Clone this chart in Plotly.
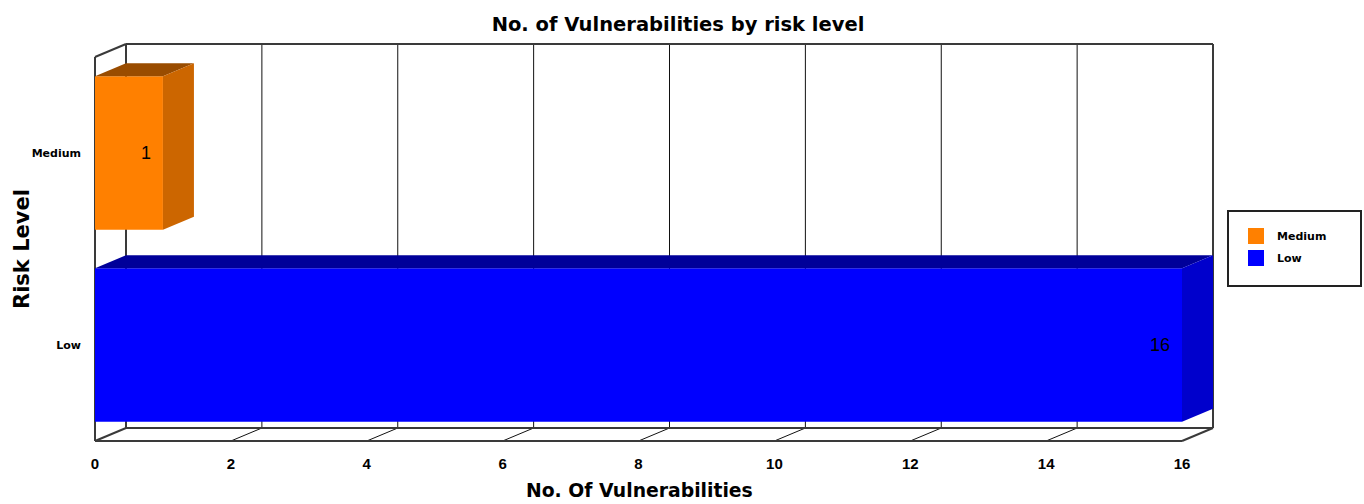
import plotly.graph_objects as go

# ---- data ----
categories = ["Low", "Medium"]
counts = [16, 1]
x_ticks = [0, 2, 4, 6, 8, 10, 12, 14, 16]
legend_order = ["Medium", "Low"]

front_colors = {"Medium": "#FF8000", "Low": "#0000FF"}
top_colors = {"Medium": "#994C00", "Low": "#000099"}
side_colors = {"Medium": "#CC6600", "Low": "#0000CC"}

# ---- geometry of the pseudo-3D box (pixels) ----
W, H = 1364, 504
FX0, FX1 = 95, 1182        # front floor: x = 0 and x = max
FY_BOT, FY_TOP = 441, 57   # front plane bottom / top
DPX, DPY = 31, 13          # depth offset of the back wall
PAD = 3

x_max = x_ticks[-1]
n_cat = len(categories)
kx = (FX1 - FX0) / x_max
ky = (FY_BOT - FY_TOP) / n_cat
dx = DPX / kx
dy = DPY / ky

plot_l = FX0 - PAD
plot_r = FX1 + DPX + PAD
plot_t = FY_TOP - DPY - PAD
plot_b = FY_BOT + PAD

x_range = [(plot_l - FX0) / kx, (plot_r - FX0) / kx]
y_range = [(FY_BOT - plot_b) / ky - 0.5, (FY_BOT - plot_t) / ky - 0.5]


def xp(px):
    return (px - plot_l) / (plot_r - plot_l)


def yp(py):
    return (plot_b - py) / (plot_b - plot_t)


ypos = list(range(n_cat))
BAR_W = 0.8
y_floor = -0.5
y_ceil = n_cat - 0.5

fig = go.Figure()
fig.add_trace(go.Bar(
    x=counts, y=ypos, orientation="h", width=BAR_W,
    marker=dict(color=[front_colors[c] for c in categories], line=dict(width=0)),
    showlegend=False, hoverinfo="x+text", hovertext=categories,
))

shapes = []
WALL = dict(color="#3a3a3a", width=2)
GRID = dict(color="#111111", width=1)


def seg(x0, y0, x1, y1, line, layer="below"):
    shapes.append(dict(type="line", xref="x", yref="y", x0=x0, y0=y0, x1=x1, y1=y1,
                       line=line, layer=layer))


# back wall gridlines and floor tick diagonals
for t in x_ticks:
    if 0 < t < x_max:
        seg(t + dx, y_floor + dy, t + dx, y_ceil + dy, GRID)
    seg(t, y_floor, t + dx, y_floor + dy, GRID if 0 < t < x_max else WALL)

# box edges
seg(dx, y_floor + dy, x_max + dx, y_floor + dy, WALL)          # back floor edge
seg(dx, y_ceil + dy, x_max + dx, y_ceil + dy, WALL)            # back top edge
seg(dx, y_floor + dy, dx, y_ceil + dy, WALL)                   # back left edge
seg(x_max + dx, y_floor + dy, x_max + dx, y_ceil + dy, WALL)   # back right edge
seg(0, y_floor, 0, y_ceil, WALL)                               # front left edge
seg(0, y_ceil, dx, y_ceil + dy, WALL)                          # top-left diagonal
seg(0, y_floor, x_max, y_floor, WALL)                          # front floor edge

# top and side faces of each bar
half = BAR_W / 2
for cat, v, yc in zip(categories, counts, ypos):
    top = (f"M 0,{yc + half} L {v},{yc + half} L {v + dx},{yc + half + dy} "
           f"L {dx},{yc + half + dy} Z")
    side = (f"M {v},{yc - half} L {v + dx},{yc - half + dy} L {v + dx},{yc + half + dy} "
            f"L {v},{yc + half} Z")
    shapes.append(dict(type="path", xref="x", yref="y", path=top,
                       fillcolor=top_colors[cat], line=dict(width=0), layer="above"))
    shapes.append(dict(type="path", xref="x", yref="y", path=side,
                       fillcolor=side_colors[cat], line=dict(width=0), layer="above"))

annotations = []
for v, yc in zip(counts, ypos):
    annotations.append(dict(x=v, y=yc, xref="x", yref="y", text=str(v), showarrow=False,
                            xanchor="right", xshift=-10,
                            font=dict(family="Liberation Sans", size=18, color="black")))

# legend box
LEG = dict(x0=1228, y0=211, x1=1361, y1=286)
shapes.append(dict(type="rect", xref="paper", yref="paper",
                   x0=xp(LEG["x0"]), x1=xp(LEG["x1"]), y0=yp(LEG["y1"]), y1=yp(LEG["y0"]),
                   line=dict(color="#222222", width=2), fillcolor="white", layer="above"))
for i, cat in enumerate(legend_order):
    cy = 236 + 22 * i
    shapes.append(dict(type="rect", xref="paper", yref="paper",
                       x0=xp(1248), x1=xp(1264), y0=yp(cy + 8), y1=yp(cy - 8),
                       fillcolor=front_colors[cat], line=dict(width=0), layer="above"))
    annotations.append(dict(x=xp(1275), y=yp(cy), xref="paper", yref="paper", text=cat,
                            showarrow=False, xanchor="left", yanchor="middle",
                            font=dict(family="DejaVu Sans", size=11, color="black",
                                      weight="bold")))

# axis titles
annotations.append(dict(x=xp(639), y=yp(490), xref="paper", yref="paper",
                        text="No. Of Vulnerabilities", showarrow=False,
                        xanchor="center", yanchor="middle",
                        font=dict(family="DejaVu Sans", size=18.8, color="black", weight="bold")))
annotations.append(dict(x=xp(22), y=yp(249), xref="paper", yref="paper",
                        text="Risk Level", showarrow=False, textangle=-90,
                        xanchor="center", yanchor="middle",
                        font=dict(family="DejaVu Sans", size=21, color="black", weight="bold")))

fig.update_layout(
    width=W, height=H, autosize=False,
    margin=dict(l=plot_l, r=W - plot_r, t=plot_t, b=H - plot_b, pad=0),
    paper_bgcolor="white", plot_bgcolor="white",
    title=dict(text="No. of Vulnerabilities by risk level", x=678 / W, xanchor="center",
               y=1 - 24 / H, yanchor="middle",
               font=dict(family="DejaVu Sans", size=19.5, color="black", weight="bold")),
    xaxis=dict(range=x_range, tickvals=x_ticks, ticktext=[str(t) for t in x_ticks],
               showgrid=False, zeroline=False, showline=False, ticks="",
               ticklabelstandoff=9,
               tickfont=dict(family="Liberation Sans", size=15, color="black", weight="bold")),
    yaxis=dict(range=y_range, tickvals=ypos, ticktext=categories,
               showgrid=False, zeroline=False, showline=False, ticks="",
               ticklabelstandoff=10,
               tickfont=dict(family="DejaVu Sans", size=11, color="black", weight="bold")),
    shapes=shapes, annotations=annotations, showlegend=False,
)

fig.write_html("out.html")
